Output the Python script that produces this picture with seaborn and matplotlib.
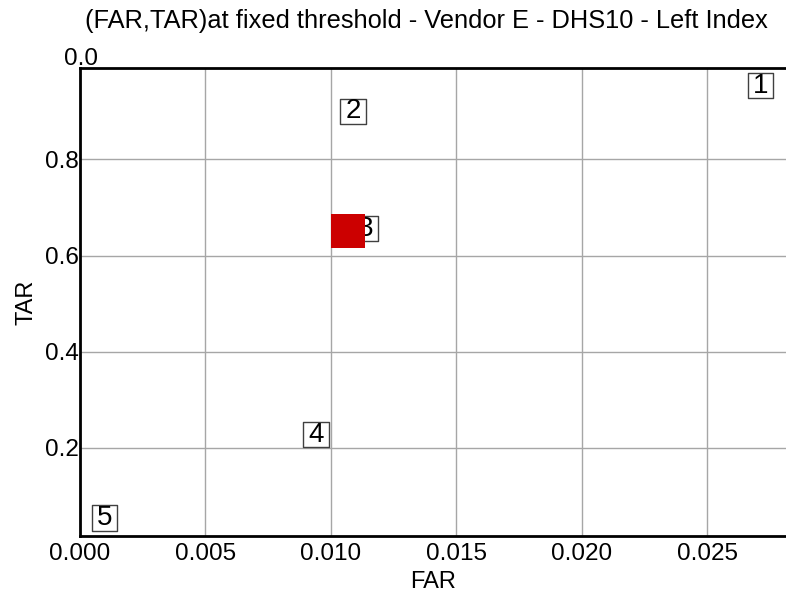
import pandas as pd
import seaborn as sns
import matplotlib.pyplot as plt

# operating points (label -> FAR, TAR)
point_labels = ['1', '2', '3', '4', '5']
far = [0.0271, 0.01088, 0.01139, 0.0094, 0.00099]
tar = [0.953, 0.900, 0.656, 0.228, 0.0545]

# highlighted (selected) point
sel_far = [0.01066]
sel_tar = [0.652]

x_ticks = [0.000, 0.005, 0.010, 0.015, 0.020, 0.025]
y_ticks = [0.2, 0.4, 0.6, 0.8]

sns.set_style('white')
plt.rcParams['font.family'] = ['Liberation Sans', 'DejaVu Sans']
plt.rcParams['text.color'] = 'black'
plt.rcParams['axes.labelcolor'] = 'black'

fig = plt.figure(figsize=(7.86, 5.95), dpi=100)
ax = fig.add_axes([80 / 786, 59 / 595, 706 / 786, 468 / 595])

df_pts = pd.DataFrame({'FAR': far, 'TAR': tar, 'label': point_labels})
# label boxes
sns.scatterplot(data=df_pts, x='FAR', y='TAR', marker='s', s=330,
                facecolor='none', edgecolor='#404040', linewidth=1, ax=ax, zorder=3)
for lab, x, y in zip(point_labels, far, tar):
    ax.text(x, y, lab, ha='center', va='center', fontsize=20, zorder=4)

df_sel = pd.DataFrame({'FAR': sel_far, 'TAR': sel_tar})
sns.scatterplot(data=df_sel, x='FAR', y='TAR', marker='s', s=600,
                color='#cc0000', linewidth=0, ax=ax, zorder=5)

ax.set_xlim(0, 0.02813)
ax.set_ylim(0.017, 0.99)
ax.set_xticks(x_ticks)
ax.set_xticklabels(['%.3f' % v for v in x_ticks])
ax.set_yticks(y_ticks)
ax.set_yticklabels(['%.1f' % v for v in y_ticks])
ax.tick_params(axis='x', labelsize=17.5, length=0, pad=5, colors='black')
ax.tick_params(axis='y', labelsize=17.5, length=0, pad=1, colors='black')
ax.grid(True, color='#a6a6a6', lw=1)
ax.set_axisbelow(True)

for side in ['left', 'bottom', 'top']:
    ax.spines[side].set_color('black')
    ax.spines[side].set_linewidth(2)
ax.spines['right'].set_visible(False)

ax.set_xlabel('FAR', fontsize=17, labelpad=4)
ax.set_ylabel('TAR', fontsize=17, labelpad=5)
fig.text(81 / 786, 1 - 59 / 595, '0.0', ha='center', va='center', fontsize=17.5)
fig.text(426 / 786, 1 - 21 / 595, '(FAR,TAR)at fixed threshold - Vendor E - DHS10 - Left Index',
         ha='center', va='center', fontsize=18.3)

fig.savefig('out.png', dpi=100)
